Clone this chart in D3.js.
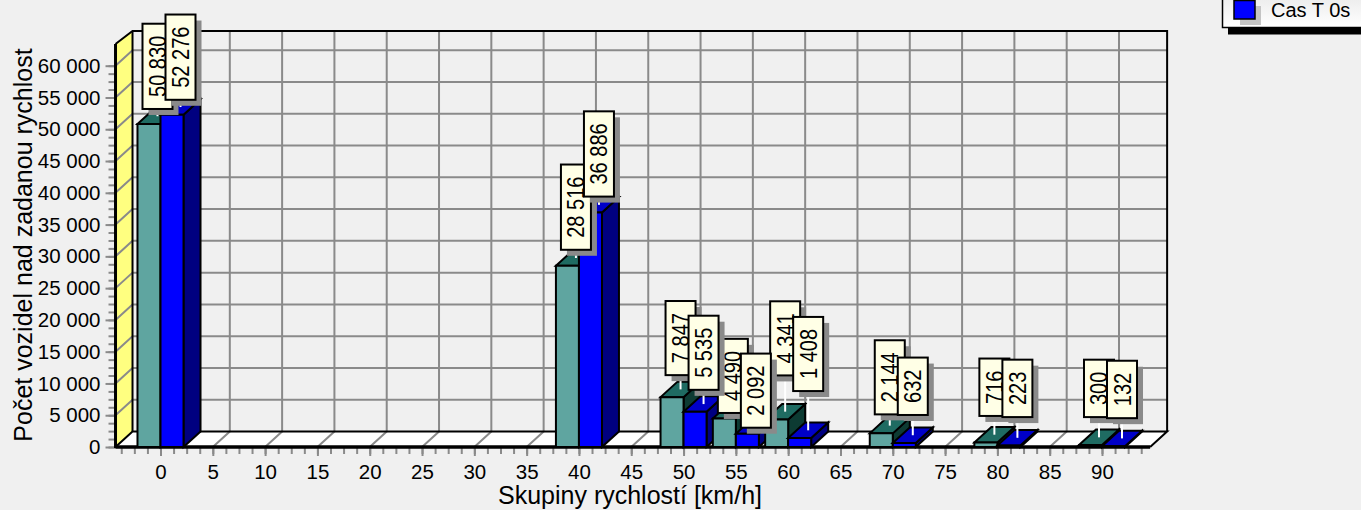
<!DOCTYPE html>
<html>
<head>
<meta charset="utf-8">
<script src="https://cdn.jsdelivr.net/npm/d3@7"></script>
<style>
    html, body { margin: 0; padding: 0; background: #f0f0f0; overflow: hidden; }
    svg { display: block; font-family: "Liberation Sans", Arial, sans-serif; }
</style>
</head>
<body>
<div id="chart"></div>
<script>
// data
const speedGroups = [0, 40, 50, 55, 60, 70, 80, 90]
const tealValues = [50830, 28516, 7847, 4490, 4341, 2144, 716, 300]
const blueValues = [52276, 36886, 5535, 2092, 1408, 632, 223, 132]
const xTickValues = d3.range(0, 95, 5)
const yTickValues = d3.range(0, 65000, 5000)
const legendLabel = 'Cas T 0s'
const xTitle = 'Skupiny rychlostí [km/h]'
const yTitle = 'Počet vozidel nad zadanou rychlost'

// how far each label sits above its bar, pixels
const tealLift = [15, 16, 22, 5.5, 44, 19, 26.5, 28]
const blueLift = [15, 16, 22, 6, 47, 28, 28.5, 28]

const width = 1361, height = 510
const depthX = 17, depthY = -15.5
const barWidth = 2.2 // km/h

const x = d3.scaleLinear().domain([0, 90]).range([160.5, 1102])
const y = d3.scaleLinear().domain([0, 60000]).range([447, 65.7])

const left = x(-4.3), right = x(94.6), bottom = y(0), topFront = 44
const gray = '#8a8a8a'

const svg = d3.select('#chart').append('svg')
    .attr('width', width)
    .attr('height', height)

const poly = (pts, fill, stroke, sw) => svg.append('polygon')
    .attr('points', pts.map(p => p.join(',')).join(' '))
    .attr('fill', fill)
    .attr('stroke', stroke || 'none')
    .attr('stroke-width', sw || 0)

// floor and left wall
poly([[left, bottom], [left + depthX, bottom + depthY], [right + depthX, bottom + depthY], [right, bottom]], '#ffffff')
poly([[left, bottom], [left + depthX, bottom + depthY], [left + depthX, 31], [left, topFront]], '#ffff80')

// grid on the walls
const grid = svg.append('g').attr('fill', 'none').attr('stroke', gray).attr('stroke-width', 2)
yTickValues.slice(1).forEach(v => {
    grid.append('path').attr('d', `M${left},${y(v)}L${left + depthX},${y(v) + depthY}L${right + depthX},${y(v) + depthY}`)
})
xTickValues.forEach(v => {
    grid.append('path').attr('d', `M${x(v)},${bottom}L${x(v) + depthX},${bottom + depthY}L${x(v) + depthX},31`)
})

// frame
const frame = svg.append('g').attr('fill', 'none').attr('stroke', '#000')
frame.append('path').attr('stroke-width', 2)
    .attr('d', `M${left},${bottom}L${left + depthX},${bottom + depthY}L${right + depthX},${bottom + depthY}L${right},${bottom}`)
frame.append('path').attr('stroke-width', 2)
    .attr('d', `M${left},${topFront}L${left + depthX},31L${right + depthX},31L${right + depthX},${bottom + depthY}`)
frame.append('path').attr('stroke-width', 2)
    .attr('d', `M${left + depthX},31L${left + depthX},${bottom + depthY}`)

// axes
const fmt = d3.formatLocale({ decimal: '.', thousands: ' ', grouping: [3], currency: ['', ''] }).format(',')

const yMinor = svg.append('g')
    .attr('transform', `translate(${left},0)`)
    .call(d3.axisLeft(y).tickValues(d3.range(0, 61250, 1250)).tickSize(7).tickFormat(''))
const yAxis = svg.append('g')
    .attr('transform', `translate(${left},0)`)
    .call(d3.axisLeft(y).tickValues(yTickValues).tickSize(10).tickPadding(5).tickFormat(fmt))

const xMinor = svg.append('g')
    .attr('transform', `translate(0,${bottom})`)
    .call(d3.axisBottom(x).tickValues(d3.range(-3.75, 95, 1.25)).tickSize(7).tickFormat(''))
const xAxis = svg.append('g')
    .attr('transform', `translate(0,${bottom})`)
    .call(d3.axisBottom(x).tickValues(xTickValues).tickSize(9).tickPadding(8).tickFormat(d => d))

svg.selectAll('.domain').remove()
svg.selectAll('.tick line').attr('stroke', gray).attr('stroke-width', 2)
svg.selectAll('.tick text').attr('font-size', 20.5).attr('font-family', '"Liberation Sans", Arial, sans-serif').attr('fill', '#000')

// thick front edges
svg.append('line').attr('x1', left).attr('x2', left).attr('y1', topFront).attr('y2', bottom + 1)
    .attr('stroke', '#000').attr('stroke-width', 3)
svg.append('line').attr('x1', left).attr('x2', right).attr('y1', bottom).attr('y2', bottom)
    .attr('stroke', '#000').attr('stroke-width', 3.5)

// bars, left to right
const bar = (x0, x1, y1, front, top, side) => {
    const y0 = bottom
    poly([[x1, y0], [x1 + depthX, y0 + depthY], [x1 + depthX, y1 + depthY], [x1, y1]], side, '#000', 2)
    poly([[x0, y1], [x0 + depthX, y1 + depthY], [x1 + depthX, y1 + depthY], [x1, y1]], top, '#000', 2)
    poly([[x0, y0], [x0, y1], [x1, y1], [x1, y0]], front, '#000', 2)
}
speedGroups.forEach((g, i) => {
    bar(x(g - barWidth), x(g), y(tealValues[i]), '#5fa5a0', '#1f6b62', '#0d3b33')
    bar(x(g), x(g + barWidth), y(blueValues[i]), '#0000ff', '#0000c8', '#000080')
})

// labels: every teal one first, then every blue one
const label = (value, cx, barTop, lift) => {
    const text = fmt(value)
    const g = svg.append('g')
    const stemX = cx + depthX / 2
    const bottomY = barTop - lift
    // the text in the boxes is squeezed along its length
    const t = g.append('text').text(text)
        .attr('font-size', 23.7)
        .attr('fill', '#000')
        .attr('text-anchor', 'start')
        .attr('transform', `translate(${stemX + 8.5},${bottomY - 12}) rotate(-90) scale(0.845,1)`)
    const boxH = t.node().getComputedTextLength() * 0.845 + 24
    g.insert('line', 'text')
        .attr('x1', stemX).attr('x2', stemX)
        .attr('y1', barTop + depthY / 2).attr('y2', bottomY)
        .attr('stroke', '#fff').attr('stroke-width', 2)
    g.insert('rect', 'text')
        .attr('x', stemX - 15 + 6).attr('y', bottomY - boxH + 6)
        .attr('width', 30).attr('height', boxH)
        .attr('fill', gray)
    g.insert('rect', 'text')
        .attr('x', stemX - 15).attr('y', bottomY - boxH)
        .attr('width', 30).attr('height', boxH)
        .attr('fill', '#ffffe6').attr('stroke', '#000').attr('stroke-width', 2)
}
speedGroups.forEach((g, i) => label(tealValues[i], x(g - barWidth / 2), y(tealValues[i]), tealLift[i]))
speedGroups.forEach((g, i) => label(blueValues[i], x(g + barWidth / 2), y(blueValues[i]), blueLift[i]))

// axis titles
svg.append('text').text(xTitle)
    .attr('x', 630).attr('y', 504)
    .attr('text-anchor', 'middle')
    .attr('font-size', 25)
    .attr('fill', '#000')
svg.append('text').text(yTitle)
    .attr('transform', 'translate(31.5,245) rotate(-90)')
    .attr('text-anchor', 'middle')
    .attr('font-size', 25)
    .attr('fill', '#000')

// legend, runs off the top and the right of the page
const grad = svg.append('defs').append('linearGradient')
    .attr('id', 'legendFill').attr('x1', 0).attr('x2', 0).attr('y1', 0).attr('y2', 1)
grad.append('stop').attr('offset', 0).attr('stop-color', '#e8e8e8')
grad.append('stop').attr('offset', 1).attr('stop-color', '#ffffff')
svg.append('rect').attr('x', 1228).attr('y', 28).attr('width', 140).attr('height', 6.5).attr('fill', '#000')
svg.append('rect').attr('x', 1222.5).attr('y', -10).attr('width', 150).attr('height', 37.5)
    .attr('fill', 'url(#legendFill)').attr('stroke', '#000').attr('stroke-width', 1.5)
svg.append('rect').attr('x', 1240).attr('y', 6).attr('width', 21).attr('height', 19).attr('fill', '#c4c4c4')
svg.append('rect').attr('x', 1234).attr('y', 0.5).attr('width', 21).attr('height', 18.5)
    .attr('fill', '#0000ff').attr('stroke', '#000').attr('stroke-width', 1.5)
svg.append('text').text(legendLabel)
    .attr('x', 1271).attr('y', 17)
    .attr('font-size', 20)
    .attr('fill', '#000')
</script>
</body>
</html>
